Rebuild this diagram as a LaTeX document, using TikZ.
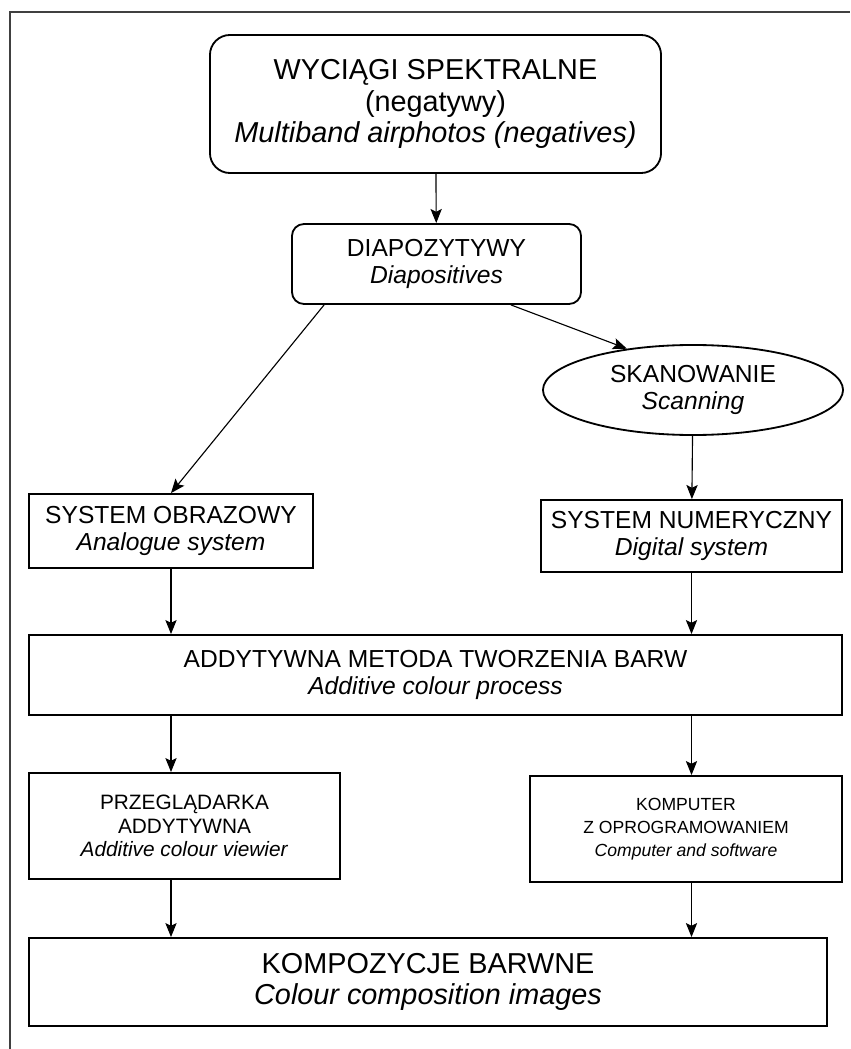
\documentclass[tikz,border=0pt]{standalone}
\usepackage{fontspec}
\setmainfont{Liberation Sans}
\usetikzlibrary{shapes.geometric, arrows.meta, calc}

\begin{document}
\begin{tikzpicture}[
    x=0.025cm, y=-0.025cm,
    box/.style={draw, line width=1.3pt, align=center, inner sep=2pt},
    oval/.style={draw, ellipse, line width=1.3pt, align=center, inner sep=0pt},
    arr/.style={-{Stealth[length=10pt, width=8pt, inset=2pt]}, line width=0.8pt},
    bigtxt/.style={font=\fontsize{20.5}{22.5}\selectfont},
    midtxt/.style={font=\fontsize{17.5}{19.5}\selectfont},
    smalltxt/.style={font=\fontsize{14.8}{16.8}\selectfont},
    tinytxt/.style={font=\fontsize{12.5}{16.4}\selectfont}
]
\useasboundingbox (0,0) rectangle (850,1049);

% Frame
\draw[line width=1.3pt, black!75] (10,1049) -- (10,12) -- (850,12);

% Source material
\node[box, bigtxt, rounded corners=0.5cm, minimum width=11.275cm, minimum height=3.45cm] (spectral) at (435.5,104)
    {WYCIĄGI SPEKTRALNE\\(negatywy)\\\textit{Multiband airphotos (negatives)}};
\node[box, midtxt, rounded corners=0.3cm, minimum width=7.225cm, minimum height=2cm] (diapo) at (436.5,264)
    {DIAPOZYTYWY\\\textit{Diapositives}};
\node[oval, midtxt, minimum width=7.5cm, minimum height=2.25cm] (scan) at (693,390)
    {SKANOWANIE\\\textit{Scanning}};

% Two systems
\node[box, midtxt, minimum width=7.1cm, minimum height=1.85cm] (analog) at (171,531)
    {SYSTEM OBRAZOWY\\\textit{Analogue system}};
\node[box, midtxt, minimum width=7.525cm, minimum height=1.8cm] (digital) at (691.5,536)
    {SYSTEM NUMERYCZNY\\\textit{Digital system}};

% Common process
\node[box, midtxt, minimum width=20.325cm, minimum height=2cm] (additive) at (435.5,675)
    {ADDYTYWNA METODA TWORZENIA BARW\\\textit{Additive colour process}};

% Devices
\node[box, smalltxt, minimum width=7.775cm, minimum height=2.65cm] (viewer) at (184.5,826)
    {PRZEGLĄDARKA\\ADDYTYWNA\\\textit{Additive colour viewier}};
\node[box, tinytxt, minimum width=7.8cm, minimum height=2.65cm] (computer) at (686,829)
    {KOMPUTER\\Z OPROGRAMOWANIEM\\\textit{Computer and software}};

% Result
\node[box, bigtxt, minimum width=19.95cm, minimum height=2.2cm] (result) at (428,982)
    {KOMPOZYCJE BARWNE\\\textit{Colour composition images}};

% Arrows
\draw[arr] (spectral) -- (diapo);
\draw[arr] ([xshift=1.86cm]diapo.south) -- (scan.148);
\draw[arr] ([xshift=-2.81cm]diapo.south) -- (analog.north);
\draw[arr] (scan) -- (digital);
\foreach \col/\from/\to in {analog/analog/additive, digital/digital/additive,
    analog/additive/viewer, digital/additive/computer,
    analog/viewer/result, digital/computer/result} {
    \draw[arr] (\col |- \from.south) -- (\col |- \to.north);
}

\end{tikzpicture}
\end{document}
